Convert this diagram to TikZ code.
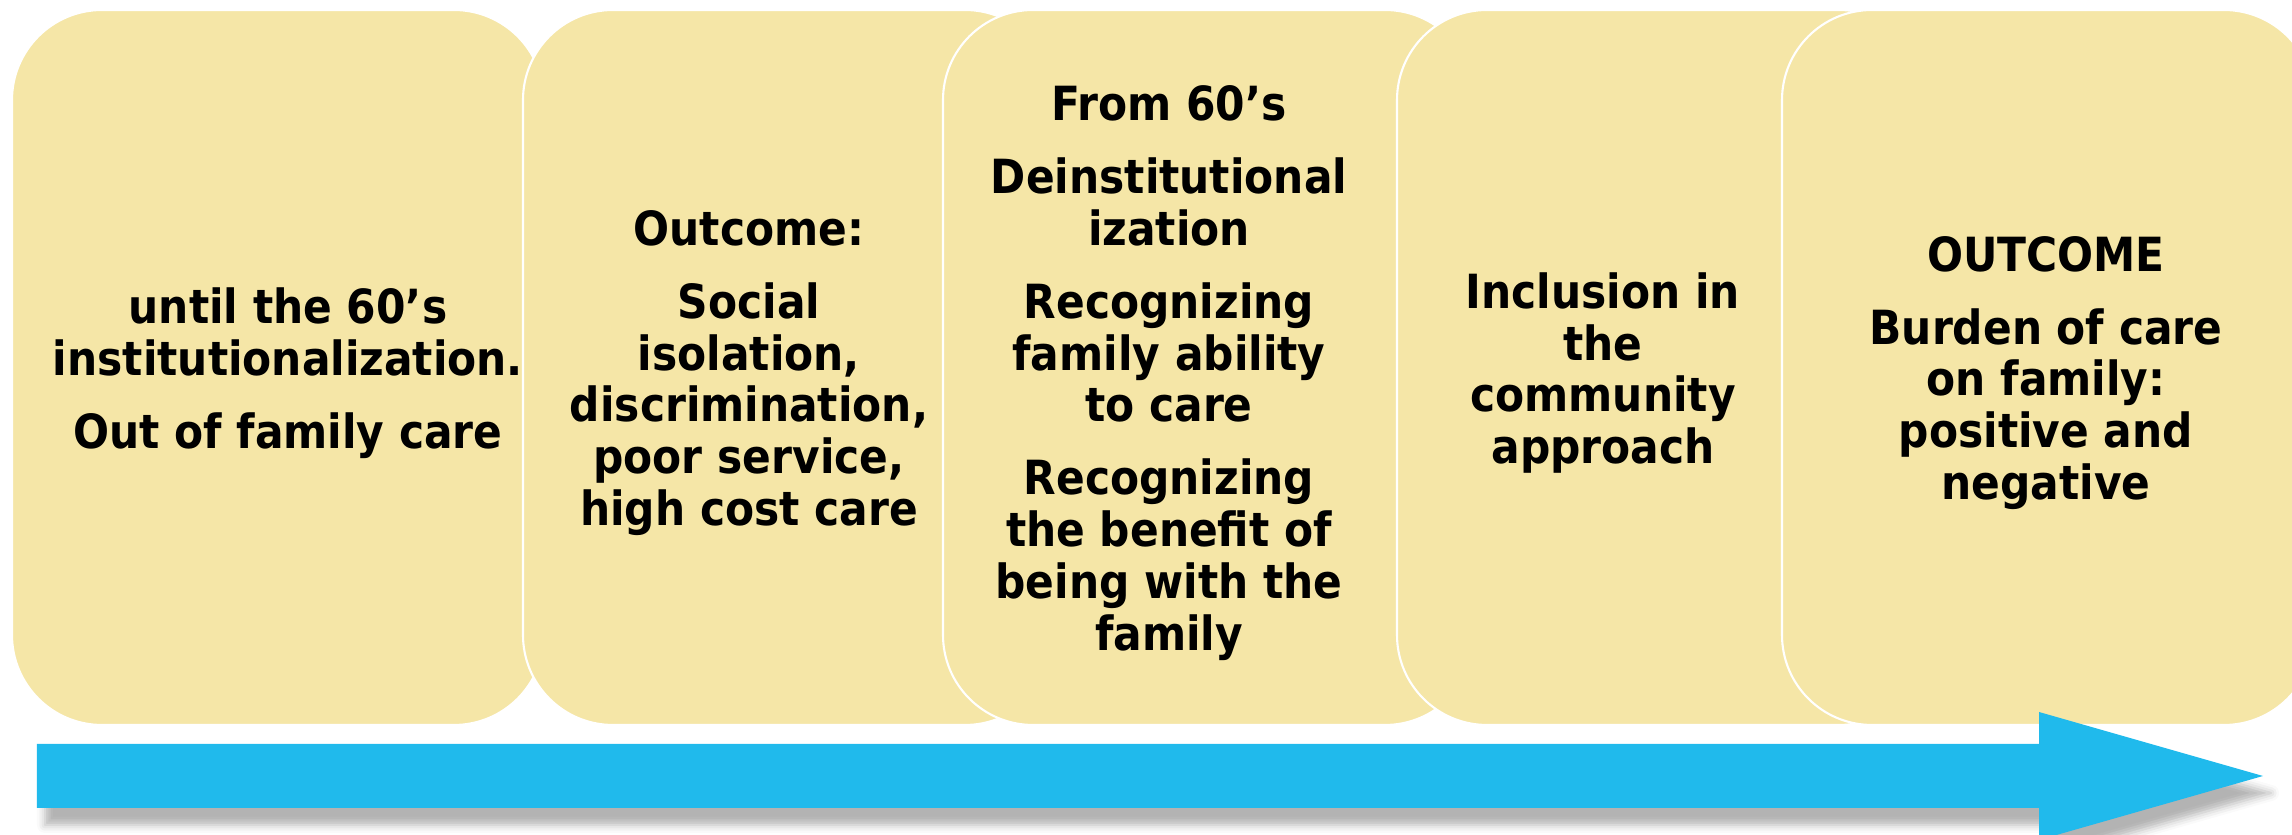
\documentclass[tikz,border=0pt]{standalone}
\usepackage{fontspec}
\setmainfont{DejaVu Sans Condensed}
\usepackage{xcolor}
\usetikzlibrary{backgrounds}
\usetikzlibrary{calc,shadows.blur}
\definecolor{boxfill}{HTML}{F5E6A7}
\definecolor{arrowblue}{HTML}{20BAEC}

\begin{document}
\begin{tikzpicture}[>=latex,
 phase/.style={fill=boxfill, draw=white, line width=0.6pt, rounded corners=0.9cm},
 phasetext/.style={font=\bfseries\fontsize{13.4}{14.75}\selectfont, align=center, inner sep=0pt},
 timearrow/.style={fill=arrowblue, draw=none,
   blur shadow={shadow xshift=0.08cm, shadow yshift=-0.17cm, shadow blur radius=0.08cm, shadow opacity=30}}]
 %\draw [help lines] (0,0) grid (23,8);
 \useasboundingbox (0,0) rectangle (22.92,8.35);
 \clip (0,0) rectangle (22.92,8.35);
 % the five phases, each one over the one before
 \draw [phase] (0.12,1.10) rectangle ++(5.32cm, 7.15cm);
 \draw [phase] (5.23,1.10) rectangle ++(5.32cm, 7.15cm);
 \draw [phase] (9.43,1.10) rectangle ++(5.32cm, 7.15cm);
 \draw [phase] (13.97,1.10) rectangle ++(5.32cm, 7.15cm);
 \draw [phase] (17.82,1.10) rectangle ++(5.32cm, 7.15cm);
 %
 \node [phasetext] (until) at (2.88,4.62) {until the 60’s\\institutionalization.\\[6pt]Out of family care};
 \node [phasetext] (outcome) at (7.49,4.62) {Outcome:\\[6pt]Social\\isolation,\\discrimination,\\poor service,\\high cost care};
 \node [phasetext] (from) at (11.69,4.62) {From 60’s\\[6pt]Deinstitutional\\ization\\[6pt]Recognizing\\family ability\\to care\\[6pt]Recognizing\\the benefit of\\being with the\\family};
 \node [phasetext] (inclusion) at (16.03,4.62) {Inclusion in\\the\\community\\approach};
 \node [phasetext] (burden) at (20.46,4.62) {OUTCOME\\[6pt]Burden of care\\on family:\\positive and\\negative};
 %
 % time arrow
 \coordinate (tail) at (0.37,0.59);
 \coordinate (tip) at (22.63,0.59);
 \fill [timearrow] ($(tail)+(0,-0.32)$) -- (20.39,0.27) -- (20.39,-0.05) -- (tip)
   -- (20.39,1.23) -- (20.39,0.91) -- ($(tail)+(0,0.32)$) -- cycle;
\end{tikzpicture}
\end{document}
